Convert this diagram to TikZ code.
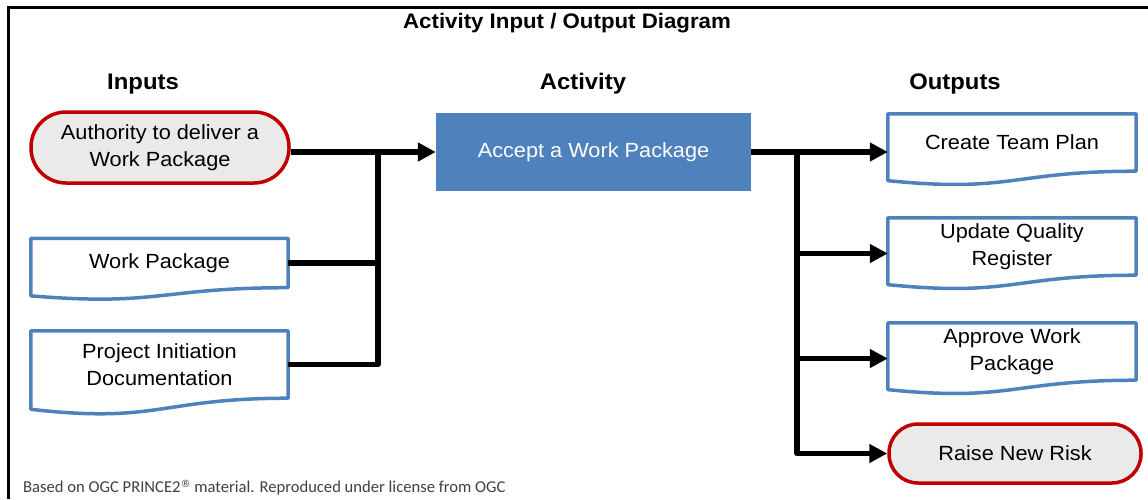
\documentclass[tikz,border=0pt]{standalone}
\usepackage{fontspec}
\setmainfont{Liberation Sans}[FakeStretch=1.06]
\newfontfamily\footfont{Carlito}
\newfontfamily\regfont{DejaVu Sans}
\usetikzlibrary{arrows.meta,calc}
\definecolor{docblue}{HTML}{4F81BD}
\definecolor{riskred}{HTML}{C00000}
\definecolor{stadfill}{HTML}{EAEAEA}
\definecolor{footgrey}{HTML}{404040}
\tikzset{
  body/.style={font=\fontsize{20.5}{27}\selectfont, align=center, inner sep=0pt},
  stad/.style={body, draw=riskred, fill=stadfill, line width=3.5pt},
  docnode/.style={body, minimum height=57pt},
  docline/.style={draw=docblue, line width=3.5pt, line join=round},
  actbox/.style={body, fill=docblue, text=white, minimum width=315pt, minimum height=78pt},
  heading/.style={font=\bfseries\fontsize{22.5}{27}\selectfont, inner sep=0pt},
  conn/.style={line width=5.5pt, line join=round},
  arr/.style={conn, -{Triangle[length=18pt,width=18pt]}},
}
\newcommand\DocOutline[1]{%
  \draw[docline] (#1.north west) -- (#1.north east) -- (#1.south east)
    .. controls (#1.south) and ($(#1.south)!-0.381!(#1.north)$)
    .. ($(#1.south west)!-0.1646!(#1.north west)$) -- cycle;}
\begin{document}
\begin{tikzpicture}[x=1pt,y=-1pt]
\useasboundingbox (0,0) rectangle (1148,499);
% frame
\draw[line width=3pt] (8,499) -- (8,7) -- (1149,7);
% title and headings
\node[font=\bfseries\fontsize{21}{24}\selectfont, inner sep=0pt] (title) at (567,23.5) {Activity Input / Output Diagram};
\node[heading] (hin) at (143,84) {Inputs};
\node[heading] (hact) at (583,84) {Activity};
\node[heading] (hout) at (955,84) {Outputs};
% inputs
\node[stad, minimum width=258pt, minimum height=71pt, rounded corners=35pt] (auth) at (160,147.5) {Authority to deliver a\\Work Package};
\node[docnode, minimum width=257pt, minimum height=49pt] (wp) at (159.5,263) {Work Package};
\node[docnode, minimum width=257pt, minimum height=67pt] (pid) at (159.5,364.5) {Project Initiation\\Documentation};
\DocOutline{wp}
\DocOutline{pid}
% activity
\node[actbox] (acc) at (593.5,152) {Accept a Work Package};
% outputs
\node[docnode, minimum width=248pt] (ctp) at (1012,142.5) {Create Team Plan};
\node[docnode, minimum width=248pt] (uqr) at (1012,246.5) {Update Quality\\Register};
\node[docnode, minimum width=248pt] (awp) at (1012,351.5) {Approve Work\\Package};
\DocOutline{ctp}
\DocOutline{uqr}
\DocOutline{awp}
\node[stad, minimum width=252pt, minimum height=59pt, rounded corners=29pt] (rnr) at (1015,453.5) {Raise New Risk};
% footer
\node[font=\footfont\fontsize{16.6}{19}\selectfont, text=footgrey, anchor=west, inner sep=0pt] (foot) at (23,488) {Based on OGC PRINCE2\raisebox{0.3em}{\regfont\fontsize{10}{10}\selectfont ®}\ material. Reproduced under license from OGC};
% connectors left
\coordinate (bl) at (378,0);
\coordinate (br) at (797,0);
\draw[arr] (auth.east |- acc.west) -- (acc.west);
\draw[conn] (bl |- acc.west) -- (bl |- pid.east) -- (pid.east);
\draw[conn] (wp.east) -- (bl |- wp.east);
% connectors right
\coordinate (uqrIn) at ($(uqr.west)+(0,7)$);
\coordinate (awpIn) at ($(awp.west)+(0,7)$);
\draw[arr] (acc.east) -- (acc.east -| ctp.west);
\draw[arr] (br |- acc.east) -- (br |- rnr.west) -- (rnr.west);
\draw[arr] (br |- uqrIn) -- (uqrIn);
\draw[arr] (br |- awpIn) -- (awpIn);
\end{tikzpicture}
\end{document}
